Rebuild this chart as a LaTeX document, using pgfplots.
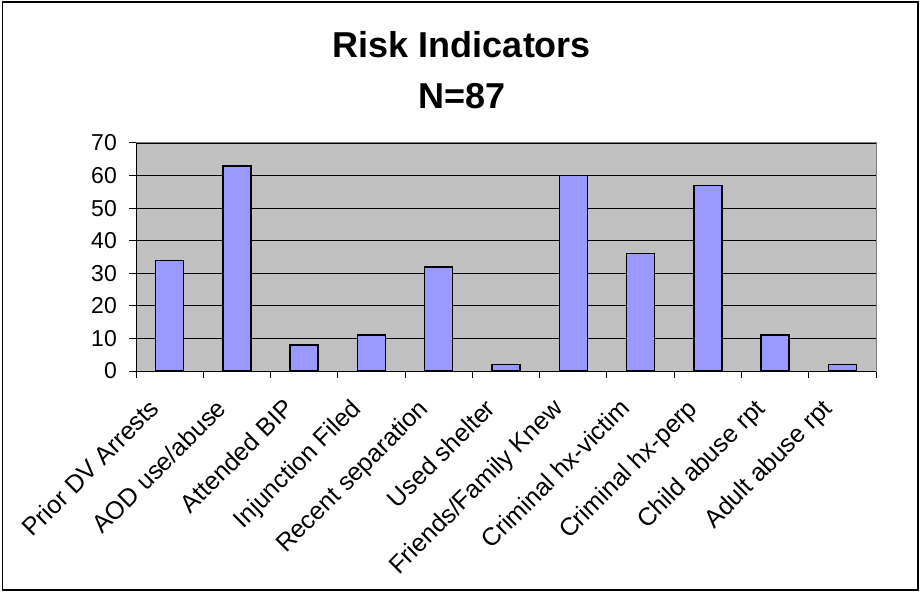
\documentclass[border=0pt]{standalone}
\usepackage{pgfplots}
\pgfplotsset{compat=1.18}
\usepackage{fontspec}
\setmainfont{Liberation Sans}
\definecolor{barfill}{HTML}{9999FF}
\definecolor{plotbg}{HTML}{C0C0C0}
\definecolor{frameg}{HTML}{808080}
\begin{document}
\begin{tikzpicture}[x=1pt,y=1pt]
\useasboundingbox (0,0) rectangle (920,592);
\draw[line width=1.2pt] (2.5,2) rectangle (918,590);
\node[anchor=base,font=\fontsize{36}{40}\selectfont\bfseries] at (462,534) {Risk Indicators};
\node[anchor=base,font=\fontsize{36}{40}\selectfont\bfseries] at (462,483) {N=87};
\begin{axis}[
  at={(136pt,221pt)}, anchor=south west,
  scale only axis, width=740pt, height=228pt,
  xmin=-0.5, xmax=10.5, ymin=0, ymax=70,
  axis background/.style={fill=plotbg},
  axis line style={draw=frameg, line width=1pt},
  ymajorgrids, major grid style={draw=black, line width=0.8pt},
  xtick={0,...,10},
  xticklabels={Prior DV Arrests, AOD use/abuse, Attended BIP, Injunction Filed, Recent separation, Used shelter, Friends/Family Knew, Criminal hx-victim, Criminal hx-perp, Child abuse rpt, Adult abuse rpt},
  minor xtick={-0.5,0.5,...,10.5},
  ytick={0,10,...,70},
  minor ytick={0,10,...,70},
  major tick length=0pt, minor tick length=7pt,
  tick align=outside, tick pos=left,
  minor tick style={draw=black, line width=1pt},
  yticklabel style={font=\fontsize{23}{26}\selectfont, anchor=east, inner sep=0pt, xshift=-19pt},
  /pgf/number format/assume math mode=true,
  xticklabel style={font=\fontsize{25}{28}\selectfont, xshift=-9pt, yshift=-39pt, rotate=45, anchor=base east, inner sep=0pt},
  clip=false,
]
\addplot[ybar, bar width=28pt, fill=barfill, draw=black, line width=1.5pt] coordinates {
  (0,34) (1,63) (2,8) (3,11) (4,32) (5,2) (6,60) (7,36) (8,57) (9,11) (10,2)
};
\draw[black, line width=1pt] (axis cs:-0.5,0) -- (axis cs:-0.5,70);
\draw[black, line width=1pt] (axis cs:-0.5,0) -- (axis cs:10.5,0);
\end{axis}
\end{tikzpicture}
\end{document}
